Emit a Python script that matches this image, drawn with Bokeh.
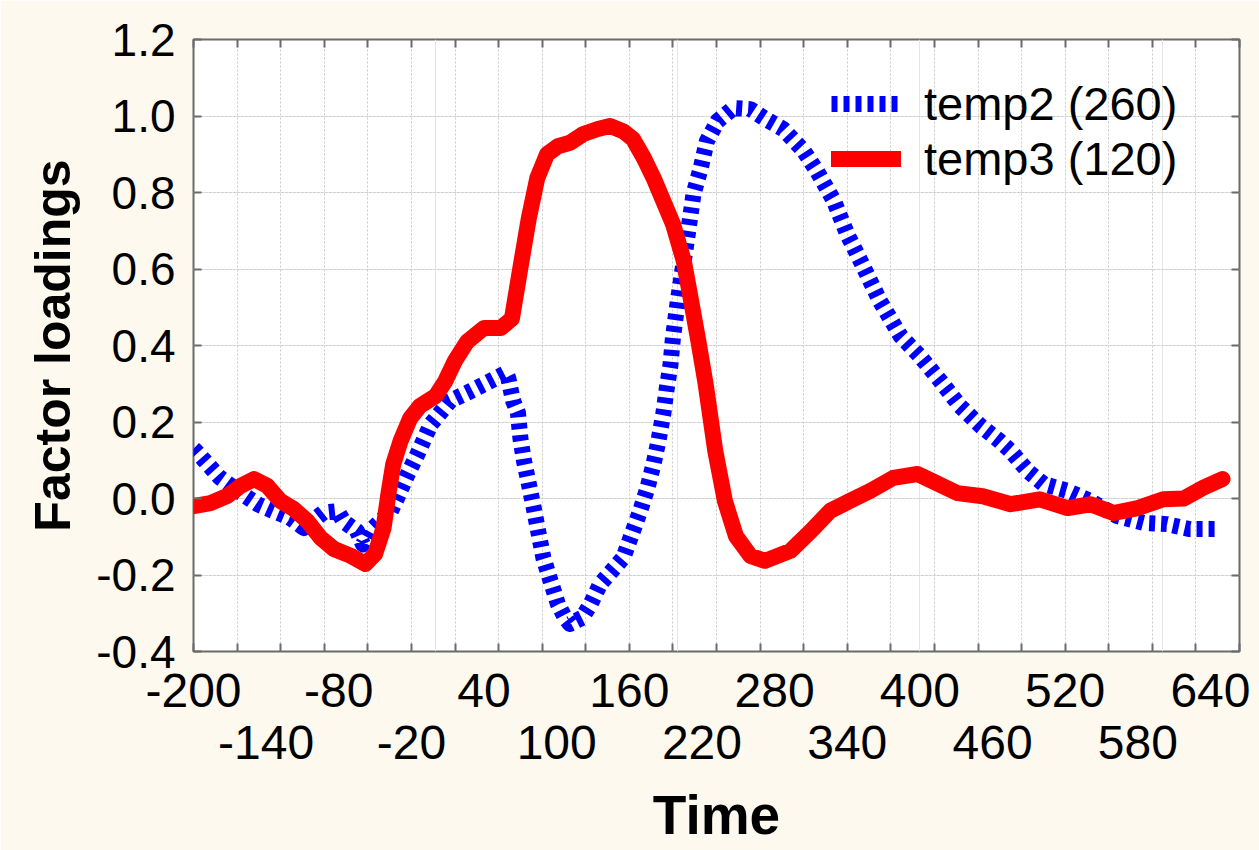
from bokeh.plotting import figure
from bokeh.models import (FixedTicker, LinearAxis, Legend, LegendItem, Range1d,
                          CustomJSTickFormatter, NumeralTickFormatter, Grid)
from bokeh.embed import file_html
from bokeh.resources import INLINE

# ---------------- data ----------------
time_temp2 = [-200, -198, -192, -178, -161, -147, -134, -120, -109, -93, -81, -76, -65, -60, -54,
              -37, -32, -23, -15, -4, 12, 29, 45, 58, 60, 64, 68, 70, 73, 77, 81, 85, 89, 95,
              101, 107, 111, 121, 128, 136, 147, 155, 163, 169, 175, 180, 184, 188, 191, 194,
              196, 200, 205, 209, 213, 219, 224, 233, 246, 260, 271, 287, 304, 315, 329, 340,
              351, 367, 384, 400, 417, 433, 450, 466, 475, 489, 502, 522, 541, 563, 585, 604,
              623, 644]
temp2 = [0.13, 0.124, 0.103, 0.054, 0.015, -0.015, -0.033, -0.051, -0.077, -0.037, -0.033, -0.06,
         -0.085, -0.12, -0.085, -0.033, 0.0, 0.064, 0.116, 0.194, 0.255, 0.281, 0.307, 0.328,
         0.315, 0.255, 0.224, 0.158, 0.098, 0.038, -0.024, -0.09, -0.155, -0.216, -0.276,
         -0.312, -0.328, -0.312, -0.276, -0.223, -0.184, -0.155, -0.085, -0.032, 0.028, 0.09,
         0.15, 0.22, 0.29, 0.35, 0.42, 0.516, 0.621, 0.707, 0.796, 0.864, 0.934, 0.987, 1.021,
         1.018, 0.995, 0.966, 0.909, 0.856, 0.778, 0.691, 0.621, 0.516, 0.425, 0.372, 0.307,
         0.242, 0.19, 0.15, 0.124, 0.072, 0.038, 0.02, -0.007, -0.046, -0.064, -0.067, -0.08,
         -0.08]

time_temp3 = [-200, -186, -172, -161, -150, -139, -128, -117, -106, -95, -84, -70, -58, -50, -43,
              -39, -35, -29, -21, -13, 0, 8, 16, 26, 40, 54, 63, 70, 77, 84, 92, 101, 111, 122,
              134, 144, 155, 163, 172, 180, 188, 196, 205, 210, 217, 223, 231, 239, 248, 260,
              272, 293, 310, 326, 343, 359, 378, 398, 414, 431, 452, 475, 499, 522, 541, 560,
              580, 601, 618, 634, 650]
temp3 = [-0.02, -0.012, 0.007, 0.033, 0.051, 0.033, -0.007, -0.028, -0.059, -0.103, -0.132, -0.15,
         -0.171, -0.145, -0.077, 0.012, 0.09, 0.15, 0.21, 0.242, 0.268, 0.307, 0.36, 0.41, 0.446,
         0.446, 0.47, 0.603, 0.733, 0.838, 0.9, 0.921, 0.93, 0.953, 0.966, 0.974, 0.96, 0.94,
         0.89, 0.838, 0.778, 0.718, 0.621, 0.535, 0.412, 0.3, 0.124, -0.007, -0.098, -0.15,
         -0.163, -0.137, -0.085, -0.032, -0.005, 0.02, 0.054, 0.064, 0.04, 0.014, 0.006, -0.015,
         -0.002, -0.025, -0.015, -0.038, -0.025, -0.002, 0.0, 0.028, 0.051]

series_labels = ["temp2 (260)", "temp3 (120)"]
grid_ticks_x = list(range(-200, 665, 36))
label_ticks_upper = [-200, -80, 40, 160, 280, 400, 520, 640]
label_ticks_lower = [-140, -20, 100, 220, 340, 460, 580]
y_ticks = [-0.4, -0.2, 0.0, 0.2, 0.4, 0.6, 0.8, 1.0, 1.2]

FONT = "Liberation Sans"
BG = "#FDF9EE"
FRAME = "#6B6B6B"
GRID = "#CACACA"

p = figure(width=1259, height=850, x_range=Range1d(-200, 664), y_range=Range1d(-0.4, 1.2),
           output_backend="svg", toolbar_location=None,
           x_axis_location=None, y_axis_location=None,
           min_border_left=193, min_border_right=20, min_border_top=39, min_border_bottom=199)
p.background_fill_color = "white"
p.border_fill_color = BG
p.outline_line_color = FRAME
p.outline_line_width = 2

# grids
p.add_layout(Grid(dimension=0, ticker=FixedTicker(ticks=grid_ticks_x, minor_ticks=[]),
                  grid_line_color=GRID, grid_line_dash="2 2", grid_line_width=1))
p.add_layout(Grid(dimension=1, ticker=FixedTicker(ticks=y_ticks, minor_ticks=[]),
                  grid_line_color=GRID, grid_line_dash="2 2", grid_line_width=1))

empty = CustomJSTickFormatter(code="return ''")
plain = CustomJSTickFormatter(code="return tick.toFixed(0)")

def tick_axis(ticks):
    return LinearAxis(ticker=FixedTicker(ticks=ticks, minor_ticks=[]), formatter=empty,
                      major_tick_in=8, major_tick_out=0, minor_tick_in=0, minor_tick_out=0,
                      major_tick_line_color=FRAME, major_tick_line_width=2,
                      axis_line_color=None, major_label_text_font_size="0px",
                      major_label_standoff=0)

def label_row(ticks, standoff, **kw):
    return LinearAxis(ticker=FixedTicker(ticks=ticks, minor_ticks=[]), formatter=plain,
                      major_tick_in=0, major_tick_out=0, minor_tick_in=0, minor_tick_out=0,
                      axis_line_color=None, major_tick_line_color=None,
                      major_label_text_font=FONT, major_label_text_font_size="48px",
                      major_label_text_color="black", major_label_standoff=standoff, **kw)

# bottom: ticks, then two staggered rows of labels
p.add_layout(tick_axis(grid_ticks_x), "below")
p.add_layout(label_row(label_ticks_upper, 22), "below")
p.add_layout(label_row(label_ticks_lower, 16, axis_label="Time", axis_label_text_font=FONT,
                       axis_label_text_font_size="55px", axis_label_text_font_style="bold",
                       axis_label_text_color="black", axis_label_standoff=22), "below")

p.add_layout(tick_axis(grid_ticks_x), "above")
p.add_layout(tick_axis(y_ticks), "right")

yax = LinearAxis(ticker=FixedTicker(ticks=y_ticks, minor_ticks=[]),
                 formatter=NumeralTickFormatter(format="0.0"),
                 major_tick_in=8, major_tick_out=0, minor_tick_in=0, minor_tick_out=0,
                 major_tick_line_color=FRAME, major_tick_line_width=2, axis_line_color=None,
                 major_label_text_font=FONT, major_label_text_font_size="46px",
                 major_label_text_color="black", major_label_standoff=18,
                 axis_label="Factor loadings", axis_label_text_font=FONT,
                 axis_label_text_font_size="50px", axis_label_text_font_style="bold",
                 axis_label_text_color="black", axis_label_standoff=12)
p.add_layout(yax, "left")

r2 = p.line(time_temp2, temp2, line_color="#0000FF", line_width=16, line_dash="6 6",
            line_cap="butt", line_join="round")
r3 = p.line(time_temp3, temp3, line_color="#FF0000", line_width=16,
            line_cap="round", line_join="round")

legend = Legend(items=[LegendItem(label=series_labels[0], renderers=[r2]),
                       LegendItem(label=series_labels[1], renderers=[r3])],
                location=(638, 465), glyph_width=70, glyph_height=55, label_height=55,
                label_standoff=23, label_text_font=FONT, label_text_font_size="47px",
                label_text_color="black", padding=0, margin=0, spacing=0,
                border_line_color=None, background_fill_alpha=0)
p.add_layout(legend)

open("out.html", "w").write(file_html(p, INLINE))
